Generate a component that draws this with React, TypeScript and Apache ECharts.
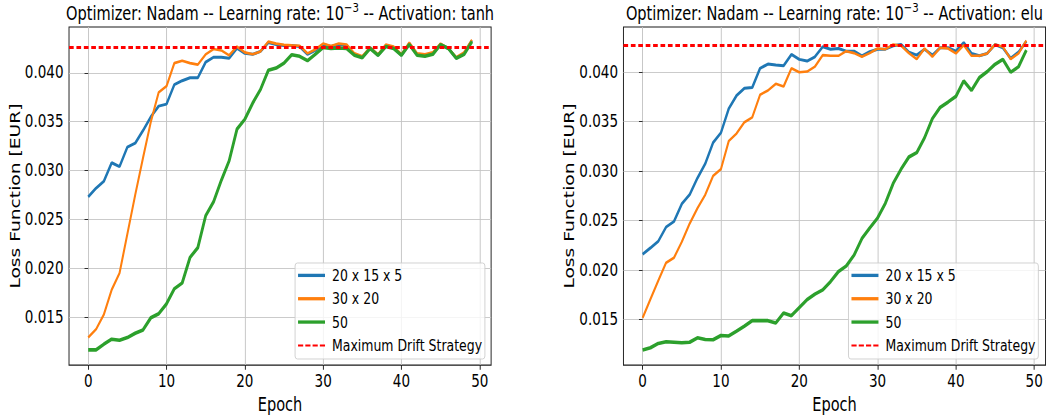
import React, { useEffect, useRef } from 'react';
import * as echarts from 'echarts';

const EPOCHS = [0, 1, 2, 3, 4, 5, 6, 7, 8, 9, 10, 11, 12, 13, 14, 15, 16, 17, 18, 19, 20, 21, 22, 23, 24, 25, 26, 27, 28, 29, 30, 31, 32, 33, 34, 35, 36, 37, 38, 39, 40, 41, 42, 43, 44, 45, 46, 47, 48, 49];

const X_TICKS = [0, 10, 20, 30, 40, 50];
const Y_TICKS = [0.015, 0.02, 0.025, 0.03, 0.035, 0.04];

const SERIES_NAMES = ['20 x 15 x 5', '30 x 20', '50'];
const DRIFT_NAME = 'Maximum Drift Strategy';

// Left panel: activation tanh
const BLUE_TANH = [0.0273, 0.0282, 0.0289, 0.0308, 0.0304, 0.0324, 0.0328, 0.0341, 0.0355, 0.0366, 0.0368, 0.0388, 0.0392, 0.0395, 0.0395, 0.0411, 0.0416, 0.0416, 0.0415, 0.04254, 0.042, 0.0419, 0.0422, 0.0431, 0.0429, 0.0428, 0.0428, 0.0427, 0.0419, 0.0423, 0.0429, 0.0427, 0.0429, 0.0428, 0.0419, 0.0416, 0.0426, 0.0418, 0.0428, 0.0426, 0.0418, 0.043, 0.0419, 0.0418, 0.042, 0.0429, 0.0425, 0.0415, 0.042, 0.0433];
const ORANGE_TANH = [0.0129, 0.01374, 0.01527, 0.0178, 0.0195, 0.0235, 0.0275, 0.0313, 0.035, 0.038, 0.03864, 0.041, 0.04125, 0.041, 0.04085, 0.0419, 0.04244, 0.0423, 0.0418, 0.0427, 0.0421, 0.0419, 0.0422, 0.0432, 0.043, 0.04288, 0.04282, 0.04278, 0.042, 0.0424, 0.043, 0.04275, 0.043, 0.0429, 0.042, 0.0417, 0.0426, 0.0419, 0.0429, 0.0427, 0.0419, 0.0431, 0.042, 0.0419, 0.0421, 0.043, 0.0425, 0.0416, 0.0421, 0.0434];
const GREEN_TANH = [0.01164, 0.01164, 0.01222, 0.01273, 0.01262, 0.0129, 0.01334, 0.01368, 0.01493, 0.01534, 0.01635, 0.0179, 0.01849, 0.0211, 0.02211, 0.02537, 0.02679, 0.029, 0.031, 0.03424, 0.03525, 0.0369, 0.0383, 0.04026, 0.0405, 0.041, 0.04186, 0.0417, 0.04125, 0.0419, 0.0426, 0.0425, 0.04255, 0.0425, 0.0418, 0.04155, 0.0425, 0.0418, 0.0427, 0.0425, 0.0418, 0.0429, 0.0418, 0.0417, 0.0419, 0.0429, 0.0425, 0.0415, 0.0419, 0.0432];
const DRIFT_TANH = 0.04264;

// Right panel: activation elu
const BLUE_ELU = [0.02159, 0.02223, 0.0229, 0.02434, 0.0249, 0.02667, 0.0276, 0.02928, 0.03075, 0.03286, 0.03386, 0.0363, 0.03762, 0.03836, 0.03843, 0.04037, 0.0408, 0.0407, 0.04063, 0.04177, 0.04127, 0.0411, 0.04153, 0.04254, 0.0423, 0.04237, 0.0421, 0.0421, 0.04163, 0.04204, 0.0423, 0.0423, 0.04264, 0.04277, 0.042, 0.0417, 0.0423, 0.0417, 0.04244, 0.04244, 0.0421, 0.04297, 0.04187, 0.04163, 0.04187, 0.04277, 0.04244, 0.04137, 0.042, 0.0431];
const ORANGE_ELU = [0.01515, 0.01705, 0.01893, 0.02073, 0.02123, 0.02284, 0.02467, 0.02624, 0.0276, 0.02951, 0.03018, 0.03302, 0.03379, 0.03492, 0.03542, 0.0377, 0.03813, 0.0388, 0.03853, 0.04037, 0.03997, 0.04004, 0.04053, 0.0417, 0.04163, 0.04163, 0.0421, 0.0419, 0.04153, 0.0419, 0.04237, 0.0423, 0.04277, 0.04264, 0.0419, 0.0413, 0.04237, 0.04153, 0.04244, 0.04237, 0.04187, 0.0427, 0.04163, 0.04163, 0.04187, 0.04277, 0.04254, 0.0413, 0.04187, 0.04318];
const GREEN_ELU = [0.01191, 0.01214, 0.01258, 0.01275, 0.0127, 0.01265, 0.0127, 0.01315, 0.01298, 0.01295, 0.01338, 0.01333, 0.01382, 0.01432, 0.01488, 0.01488, 0.01488, 0.01465, 0.01565, 0.01538, 0.0162, 0.017, 0.01756, 0.01799, 0.01883, 0.01983, 0.0204, 0.0215, 0.02317, 0.02424, 0.02524, 0.02675, 0.02875, 0.03018, 0.03141, 0.03185, 0.03335, 0.03529, 0.03643, 0.03696, 0.03753, 0.0391, 0.03813, 0.03943, 0.04003, 0.04077, 0.04127, 0.03997, 0.04053, 0.0422];
const DRIFT_ELU = 0.0427;

const COLORS = ['#1f77b4', '#ff7f0e', '#2ca02c'];
const WIDTHS = [3, 2.6, 3.6];

// The reference figure is horizontally squeezed; the chart is laid out wider and squeezed with CSS.
const SQUEEZE = 0.78;
const CHART_W = Math.round(1047 / SQUEEZE);
const sx = (v: number) => v / SQUEEZE;

const FONT = '"DejaVu Sans", sans-serif';

const PANELS = [
  { act: 'tanh', left: 69, top: 27, width: 422, height: 341, x: [-2.45, 51.45], y: [0.01008, 0.0447], data: [BLUE_TANH, ORANGE_TANH, GREEN_TANH], drift: DRIFT_TANH, legendLeft: 295, legendTop: 263 },
  { act: 'elu', left: 623.3, top: 27, width: 422, height: 341, x: [-2.45, 51.45], y: [0.01039, 0.04454], data: [BLUE_ELU, ORANGE_ELU, GREEN_ELU], drift: DRIFT_ELU, legendLeft: 848.3, legendTop: 263 },
];

function buildOption() {
  const grids: any[] = [];
  const xAxes: any[] = [];
  const yAxes: any[] = [];
  const series: any[] = [];
  const legends: any[] = [];
  const graphics: any[] = [];

  PANELS.forEach((p, k) => {
    grids.push({
      left: sx(p.left), top: p.top, width: sx(p.width), height: p.height,
      show: true, borderColor: '#1a1a1a', borderWidth: 1.2, backgroundColor: 'transparent', containLabel: false,
    });
    xAxes.push({
      type: 'value', gridIndex: k, min: p.x[0], max: p.x[1], splitNumber: 5,
      name: 'Epoch', nameLocation: 'middle', nameGap: 23,
      nameTextStyle: { fontFamily: FONT, fontSize: 18.67, color: '#000' },
      axisLine: { show: false },
      axisTick: { show: true, length: 4.7, lineStyle: { color: '#1a1a1a', width: 1.2 }, customValues: X_TICKS },
      axisLabel: {
        margin: 8, fontFamily: FONT, fontSize: 17.33, color: '#000',
        customValues: X_TICKS,
        formatter: (v: number) => (X_TICKS.indexOf(v) >= 0 ? String(v) : ''),
      },
      splitLine: { show: true, lineStyle: { color: '#c4c4c4', width: 1.2 } },
    });
    yAxes.push({
      type: 'value', gridIndex: k, min: p.y[0], max: p.y[1], splitNumber: 6,
      name: 'Loss Function [EUR]', nameLocation: 'middle', nameGap: 59,
      nameTextStyle: { fontFamily: FONT, fontSize: 18.67, color: '#000' },
      axisLine: { show: false },
      axisTick: { show: true, length: 4.7, lineStyle: { color: '#1a1a1a', width: 1 }, customValues: Y_TICKS },
      axisLabel: {
        margin: 7, fontFamily: FONT, fontSize: 17.33, color: '#000',
        customValues: Y_TICKS,
        formatter: (v: number) => (Y_TICKS.some((t) => Math.abs(t - v) < 1e-9) ? v.toFixed(3) : ''),
      },
      splitLine: { show: true, lineStyle: { color: '#c4c4c4', width: 1 } },
    });
    p.data.forEach((arr, i) => {
      const s: any = {
        type: 'line', name: SERIES_NAMES[i], xAxisIndex: k, yAxisIndex: k,
        data: EPOCHS.map((e, j) => [e, arr[j]]),
        showSymbol: false, symbol: 'none', color: COLORS[i],
        lineStyle: { color: COLORS[i], width: WIDTHS[i] }, z: 2 + i,
      };
      if (i === p.data.length - 1) {
        // horizontal reference level of the "Maximum Drift Strategy"
        s.markLine = {
          silent: true, symbol: 'none', label: { show: false }, animation: false, z: 8, precision: 6,
          lineStyle: { color: 'red', width: 3, type: [6, 3.5], opacity: 1 },
          emphasis: { disabled: true },
          data: [{ yAxis: p.drift }],
        };
      }
      series.push(s);
    });
    // legend-only entry for the drift strategy line
    series.push({ type: 'line', name: DRIFT_NAME, xAxisIndex: k, yAxisIndex: k, data: [], color: 'red', z: 10 });
    legends.push({
      left: sx(p.legendLeft), top: p.legendTop, orient: 'vertical',
      itemWidth: 34.6, itemHeight: 3.3, itemGap: 7.33,
      padding: [4.4, 3.4, 5.6, 3.8], backgroundColor: 'rgba(255,255,255,0.8)',
      borderColor: '#cccccc', borderWidth: 1, borderRadius: 3,
      itemStyle: { borderWidth: 0 }, selectedMode: false,
      textStyle: { fontFamily: FONT, fontSize: 16, color: '#000', lineHeight: 16, padding: [0, 0, 0, 4] },
      data: [
        { name: SERIES_NAMES[0], icon: 'rect' },
        { name: SERIES_NAMES[1], icon: 'rect' },
        { name: SERIES_NAMES[2], icon: 'rect' },
        { name: DRIFT_NAME, icon: 'path://M0,0h6.6v2h-6.6zM9.3,0h6.6v2h-6.6zM18.6,0h6.6v2h-6.6zM27.9,0h6.6v2h-6.6z' },
      ],
    });
    graphics.push({
      type: 'text', x: sx(p.left + p.width / 2), y: 1, z: 100,
      style: {
        text: `{a|Optimizer: Nadam -- Learning rate: 10}{s|\u22123}{a| -- Activation: ${p.act}}`,
        align: 'center', verticalAlign: 'top', fill: '#000',
        rich: {
          a: { fontFamily: FONT, fontSize: 18.67, lineHeight: 24, fill: '#000' },
          s: { fontFamily: FONT, fontSize: 13, lineHeight: 14, verticalAlign: 'top', fill: '#000' },
        },
      },
    });
  });

  return { animation: false, backgroundColor: '#fff', grid: grids, xAxis: xAxes, yAxis: yAxes, series, legend: legends, graphic: graphics };
}

export default function App() {
  const ref = useRef<HTMLDivElement>(null);
  useEffect(() => {
    if (!ref.current) return;
    const chart = echarts.init(ref.current, null, { renderer: 'svg' });
    chart.setOption(buildOption() as any);
    return () => chart.dispose();
  }, []);
  return (
    <div
      ref={ref}
      style={{
        position: 'fixed', left: 0, top: 0, width: CHART_W, height: 419,
        transform: `scaleX(${1047 / CHART_W})`, transformOrigin: '0 0', background: '#fff',
      }}
    />
  );
}
